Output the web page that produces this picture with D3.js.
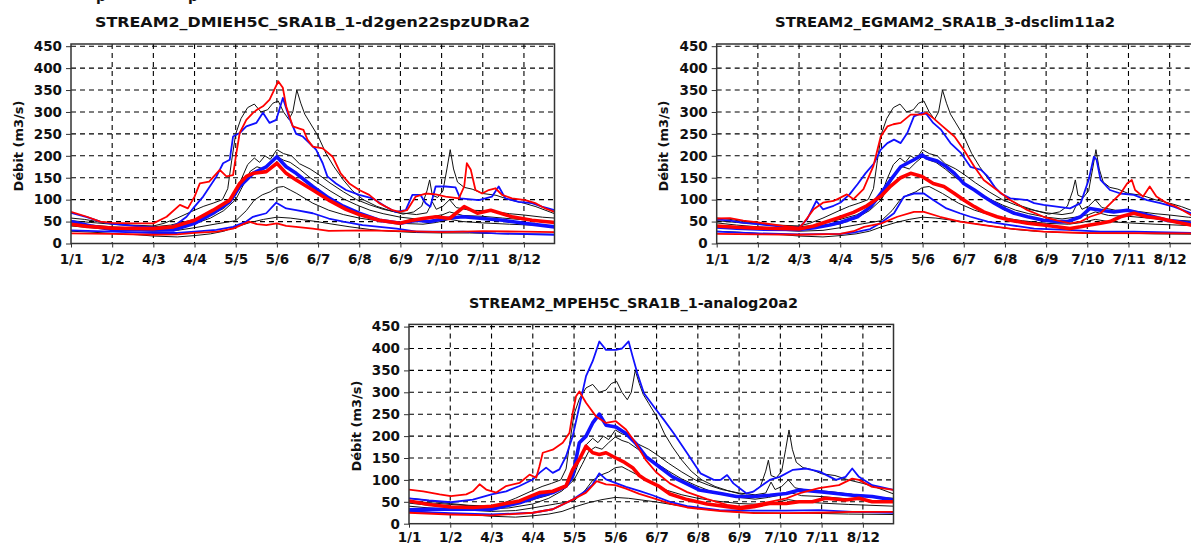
<!DOCTYPE html>
<html><head><meta charset="utf-8">
<script src="https://cdn.jsdelivr.net/npm/d3@7"></script>
<style>html,body{margin:0;padding:0;background:#fff;overflow:hidden}</style>
</head><body>
<svg id="chart" width="1191" height="543" xmlns="http://www.w3.org/2000/svg"></svg>
<script>
// ---------- axis definitions ----------
const xTickDays = [0,31,62,93,124,155,186,217,248,279,310,341];
const xTickLabels = ["1/1","1/2","4/3","4/4","5/5","5/6","6/7","6/8","6/9","7/10","7/11","8/12"];
const yTicks = [0,50,100,150,200,250,300,350,400,450];
const yLabel = "Débit (m3/s)";
const titles = ["STREAM2_DMIEH5C_SRA1B_1-d2gen22spzUDRa2","STREAM2_EGMAM2_SRA1B_3-dsclim11a2","STREAM2_MPEH5C_SRA1B_1-analog20a2"];
const headerFragments = ["p", "p"];

// ---------- observed (black) quantile series, [day, m3/s] ----------
const obsQ90 = [[0,58],[10,55],[20,50],[31,46],[45,42],[62,40],[70,46],[80,58],[93,76],[100,85],[107,92],[114,100],[118,125],[121,190],[124,250],[128,285],[133,310],[138,318],[143,300],[148,305],[152,320],[156,325],[160,300],[164,283],[167,300],[170,350],[173,320],[176,295],[180,275],[186,245],[192,205],[198,175],[205,145],[212,120],[220,100],[230,85],[240,75],[250,67],[258,72],[264,85],[268,120],[270,145],[272,110],[276,105],[280,120],[283,170],[285.5,214],[288,170],[291,140],[296,128],[302,124],[310,114],[320,110],[330,100],[341,92],[350,84],[364,68]];
const obsQ75 = [[0,52],[15,48],[31,44],[50,40],[62,38],[75,42],[93,55],[105,65],[115,80],[120,95],[124,110],[128,145],[133,180],[138,195],[142,185],[146,200],[150,192],[155,214],[160,205],[166,200],[172,182],[180,170],[186,158],[195,138],[205,118],[215,100],[225,88],[235,78],[248,70],[260,66],[268,70],[272,95],[275,78],[280,85],[285,100],[290,82],[300,76],[310,75],[320,72],[330,68],[341,65],[355,60],[364,58]];
const obsQ50 = [[0,47],[15,42],[31,38],[50,35],[62,34],[75,36],[93,45],[105,58],[115,75],[124,100],[130,135],[135,165],[140,175],[145,170],[150,185],[155,198],[160,190],[165,185],[172,170],[180,150],[186,138],[195,120],[205,102],[215,88],[225,76],[235,68],[248,60],[260,56],[270,60],[280,66],[285,72],[295,64],[310,62],[325,58],[341,54],[364,50]];
const obsQ25 = [[0,40],[15,36],[31,33],[50,30],[62,28],[80,30],[93,36],[110,45],[124,52],[132,75],[138,99],[144,111],[150,118],[155,128],[160,130],[165,122],[170,114],[182,92],[194,76],[205,66],[217,58],[230,52],[248,46],[265,44],[275,48],[285,55],[295,50],[310,47],[330,44],[364,40]];
const obsQ10 = [[0,28],[15,26],[31,23],[50,20],[62,17],[80,15],[93,18],[105,22],[115,28],[124,38],[135,48],[145,55],[155,60],[165,58],[175,54],[185,50],[195,45],[210,38],[225,32],[240,28],[260,25],[280,24],[300,24],[330,22],[364,21]];

// ---------- panel 1 : DMIEH5C ----------
const p1BlueHi = [[0,70],[12,60],[22,50],[31,45],[47,40],[62,37],[72,34],[80,45],[87,61],[93,84],[99.5,107],[104.5,130],[109.5,153],[114.5,183],[119.5,191],[122,244],[127,252],[132,267],[139.5,275],[144.5,298],[149.5,275],[154.5,282],[159.5,332],[164.5,285],[169.5,250],[174.5,244],[179.5,229],[184.5,214],[189.5,183],[193,153],[199.5,137],[207,122],[217,111],[227,103],[237,84],[244.5,72],[252,76],[257,111],[263,111],[267,92],[270.5,84],[274.5,130],[282,130],[289.5,128],[293,103],[307,99],[317,107],[322,130],[327,103],[337,95],[347,92],[354.5,84],[364,76]];
const p1BlueMed = [[0,50],[15,40],[31,32],[62,31],[77,31],[93,46],[107,69],[119.5,95],[127,130],[137,160],[147,175],[155,198],[162,175],[169.5,160],[182,130],[194,104],[205,85],[217,69],[232,53],[248,46],[260,53],[270,50],[282,57],[295,61],[310,57],[325,53],[341,46],[364,38]];
const p1BlueLo = [[0,30],[31,27],[62,24],[80,24],[93,27],[109.5,31],[122,38],[132,50],[137,61],[147,69],[154.5,93],[162,80],[169.5,76],[182,69],[194,57],[205,50],[219.5,42],[245,34],[260,27],[295,27],[320,23],[364,20]];
const p1RedHi = [[0,72],[12,61],[22,50],[31,47],[47,46],[62,46],[72,61],[82,88],[88,80],[93,107],[97,137],[104,141],[112,168],[117,153],[122,156],[124.5,206],[127,252],[132,282],[137,298],[140,305],[144.5,313],[149.5,328],[156,370],[159.5,355],[162,313],[167,267],[172,262],[175,259],[178,237],[182,221],[189.5,217],[197,198],[203,160],[209.5,137],[217,122],[224.5,111],[232,92],[242,76],[247.5,72],[253,76],[259.5,107],[267,114],[274.5,112],[282,107],[292,103],[296,130],[298,183],[301,168],[304.5,122],[309.5,114],[314.5,122],[319.5,126],[324.5,111],[332,103],[342,99],[349.5,92],[357,80],[364,72]];
const p1RedMed = [[0,44],[12,39],[31,35],[62,34],[77,38],[93,53],[107,76],[119.5,99],[127,137],[132,153],[137,160],[147,164],[155,183],[162,160],[169.5,145],[182,122],[194,99],[207,78],[217,66],[232,53],[247.5,46],[257,53],[265,57],[275,61],[285,57],[296,84],[306,69],[316,76],[332,61],[347,53],[364,48]];
const p1RedLo = [[0,23],[31,22],[62,20],[80,21],[93,24],[110,27],[122,34],[128,42],[134,50],[140,44],[147,42],[155,46],[162,40],[169.5,38],[182,34],[194,29],[220,30],[250,28],[280,26],[310,28],[340,27],[364,26]];

// ---------- panel 2 : EGMAM2 ----------
const p2BlueHi = [[0,55],[10,52],[20,47],[31,44],[50,38],[62,36],[68,55],[75,97],[80,78],[88,86],[93,93],[100,112],[106,135],[112,160],[118.5,183],[123.5,214],[128.5,229],[133.5,237],[138.5,229],[143.5,252],[148.5,290],[154.6,298],[158,295],[163,275],[169,259],[176,229],[184,206],[191,175],[199,168],[204,153],[209,130],[214,114],[221,103],[234,99],[239,92],[246,88],[256,84],[266,80],[274,92],[280,145],[284,198],[286,191],[289,145],[296,122],[304,114],[314,111],[324,99],[334,92],[344,84],[357,69],[364,66]];
const p2BlueMed = [[0,38],[15,35],[31,33],[62,32],[73.7,36],[85,42],[93,48],[106,61],[116,84],[123.5,114],[131,145],[138.5,175],[148.5,191],[154.6,202],[158,195],[166,188],[173,175],[179,160],[186,137],[194,122],[201,107],[209,92],[216,80],[224,69],[234,61],[246,53],[256,50],[264,50],[274,61],[281,80],[289,76],[299,72],[309,76],[319,69],[329,61],[339,53],[357,46],[364,45]];
const p2BlueLo = [[0,27],[31,23],[62,21],[93,22],[103,25],[115.5,33],[124,48],[133.5,69],[141,107],[148.5,114],[156,114],[163,99],[173,80],[183,69],[191,61],[204,50],[221,42],[239,34],[264,31],[289,27],[314,27],[357,24],[364,24]];
const p2RedHi = [[0,57],[10,58],[20,52],[31,48],[50,40],[62,36],[65,45],[73,78],[80,93],[88,97],[98,112],[103,101],[110.5,124],[118,177],[123.5,244],[125.5,253],[128.5,267],[133,272],[138.5,275],[146,294],[154.6,294],[158,298],[163,286],[171,265],[179,244],[186,214],[194,175],[201,145],[211,122],[221,99],[234,76],[246,61],[256,53],[266,46],[274,50],[281,61],[289,69],[299,99],[304,114],[309,137],[312.5,145],[315,122],[321,107],[326,130],[331,107],[339,92],[346,84],[357,65],[364,60]];
const p2RedMed = [[0,40],[15,37],[31,35],[62,33],[73,40],[93,60],[103,71],[113,86],[124,109],[131,131],[138.5,150],[146,160],[154.6,153],[163,137],[171,130],[179,114],[186,99],[194,84],[201,72],[211,61],[221,53],[234,46],[246,42],[256,38],[266,34],[274,38],[281,42],[289,46],[296,50],[304,61],[314,69],[324,61],[334,57],[344,50],[357,42],[364,41]];
const p2RedLo = [[0,22],[31,21],[62,20],[93,22],[103,28],[111,38],[124,46],[136,61],[148.5,72],[156,72],[168,61],[183,50],[201,42],[221,34],[246,27],[276,24],[357,23],[364,23]];

// ---------- panel 3 : MPEH5C ----------
const p3BlueHi = [[0,58],[15,53],[31.4,49],[48,55],[62,67],[73,74],[83,86],[93,101],[98,116],[103,128],[108,116],[113,124],[118,154],[123,200],[128,268],[133,337],[138,371],[143,416],[148,397],[155.4,397],[160,400],[165,416],[168,382],[171.6,343],[176.5,298],[184,267],[191.5,237],[199,206],[209,161],[219,115],[229,100],[234,100],[239,111],[243.7,92],[253.6,69],[258.6,73],[271,100],[278.5,107],[288.5,123],[298.4,126],[308.4,119],[320.8,100],[328,107],[333,126],[338,107],[348,88],[364,77]];
const p3BlueMed = [[0,32],[15,33],[31.4,33],[62,33],[83,48],[98,63],[108,71],[118,86],[123,109],[128,185],[133,200],[138,230],[143,250],[148,225],[155.5,221],[163,206],[170.5,183],[178,153],[188,130],[198,107],[208,92],[218,77],[234,69],[246,62],[258.6,62],[271,65],[283.5,69],[293.4,77],[308.4,73],[320.8,69],[333,65],[348,62],[364,54]];
const p3BlueLo = [[0,28],[31,24],[62,21],[93,25],[108,33],[123,55],[133,75],[138,90],[143,115],[148,101],[155,93],[163,84],[173,75],[183,65],[196,50],[209,40],[233,31],[258,30],[283,30],[308,31],[333,27],[364,25]];
const p3RedHi = [[0,78],[10.7,74],[23,67],[31.4,63],[43,67],[48,74],[53,90],[58,78],[65.6,71],[73,86],[83,93],[90.6,112],[95.6,105],[98,131],[100.5,162],[108,169],[115.5,185],[120.5,207],[123,253],[125.5,291],[128,302],[133,276],[140.5,245],[148,230],[155.4,234],[163,215],[170.5,183],[178,145],[185.5,118],[196,92],[209,72],[224,56],[239,43],[249,39],[259,43],[271,50],[283.5,58],[293,69],[308,81],[323,88],[333,103],[338,100],[348,84],[364,77]];
const p3RedMed = [[0,52],[15,44],[31.4,38],[48,37],[62,40],[83,52],[98,71],[108,74],[118,86],[123,124],[128,147],[133,177],[138,162],[143,158],[148,162],[155.4,150],[162,140],[168,128],[173,110],[178,100],[188,85],[196,68],[209,55],[224,45],[239,39],[249,35],[259,39],[271,46],[283.5,46],[293,50],[303,50],[313,58],[328,54],[338,58],[348,50],[364,50]];
const p3RedLo = [[0,25],[31,21],[62,19],[93,25],[108,33],[123,55],[133,71],[141,97],[148,90],[155,88],[163,80],[173,68],[184,58],[196,46],[209,37],[234,29],[259,24],[284,24],[309,25],[333,27],[364,27]];

// ---------- build panels ----------
const obsSeries = [obsQ90, obsQ75, obsQ50, obsQ25, obsQ10];
const panelData = [
  {title: titles[0], blue: [p1BlueHi, p1BlueLo], blueMed: p1BlueMed, red: [p1RedHi, p1RedLo], redMed: p1RedMed},
  {title: titles[1], blue: [p2BlueHi, p2BlueLo], blueMed: p2BlueMed, red: [p2RedHi, p2RedLo], redMed: p2RedMed},
  {title: titles[2], blue: [p3BlueHi, p3BlueLo], blueMed: p3BlueMed, red: [p3RedHi, p3RedLo], redMed: p3RedMed}
];
const layout = [
  {x0: 71, x1: 554.5, y0: 243.5, y450: 46.2, top: 44, titleX: 95, titleY: 27, titleW: 435, labX: 23, labY: 146, tickPad: 7},
  {x0: 716.7, x1: 1200.2, y0: 243.5, y450: 46.2, top: 44, titleX: 775, titleY: 27, titleW: 340, labX: 668, labY: 146, tickPad: 7},
  {x0: 409, x1: 893.5, y0: 523.7, y450: 326.6, top: 324.4, titleX: 469, titleY: 308, titleW: 329, labX: 361, labY: 426, tickPad: 5}
];

const svg = d3.select("#chart");
const FONT = "'DejaVu Sans', Verdana, sans-serif";
const BLUE = "#1010ff", RED = "#ff0000";

// partially visible header text at the very top edge
svg.append("g").selectAll("text").data(headerFragments).join("text")
  .attr("x", (d, k) => [96, 188][k]).attr("y", 0.5)
  .attr("font-family", FONT).attr("font-weight", "bold").attr("font-size", 14).attr("fill", "#111")
  .text(d => d);

panelData.forEach((pd, i) => {
  const L = layout[i];
  const x = d3.scaleLinear().domain([0, 364]).range([L.x0, L.x1]);
  const y = d3.scaleLinear().domain([0, 450]).range([L.y0, L.y450]);
  const g = svg.append("g");
  const clipId = "clip" + i;
  svg.append("clipPath").attr("id", clipId).append("rect")
    .attr("x", L.x0).attr("y", L.top).attr("width", L.x1 - L.x0).attr("height", L.y0 - L.top);

  // grid
  g.append("g").selectAll("line").data(xTickDays.slice(1)).join("line")
    .attr("x1", d => x(d)).attr("x2", d => x(d)).attr("y1", L.top).attr("y2", L.y0)
    .attr("stroke", "#000").attr("stroke-width", 1.1).attr("stroke-dasharray", "5,4");
  g.append("g").selectAll("line").data(yTicks.slice(1)).join("line")
    .attr("x1", L.x0).attr("x2", L.x1).attr("y1", d => y(d)).attr("y2", d => y(d))
    .attr("stroke", "#000").attr("stroke-width", 1.1).attr("stroke-dasharray", "5,4");

  const line = d3.line().x(d => x(d[0])).y(d => y(d[1]));
  const lg = g.append("g").attr("clip-path", `url(#${clipId})`).attr("fill", "none")
    .attr("stroke-linejoin", "round");
  obsSeries.forEach(s => lg.append("path").attr("d", line(s)).attr("stroke", "#111").attr("stroke-width", 1));
  pd.blue.forEach(s => lg.append("path").attr("d", line(s)).attr("stroke", BLUE).attr("stroke-width", 1.8));
  lg.append("path").attr("d", line(pd.blueMed)).attr("stroke", BLUE).attr("stroke-width", 3.6);
  pd.red.forEach(s => lg.append("path").attr("d", line(s)).attr("stroke", RED).attr("stroke-width", 1.8));
  lg.append("path").attr("d", line(pd.redMed)).attr("stroke", RED).attr("stroke-width", 3.6);

  // frame
  g.append("rect").attr("x", L.x0).attr("y", L.top).attr("width", L.x1 - L.x0).attr("height", L.y0 - L.top)
    .attr("fill", "none").attr("stroke", "#333").attr("stroke-width", 1.5);

  // axes
  const ax = g.append("g").attr("transform", `translate(${L.x0},0)`)
    .call(d3.axisLeft(y).tickValues(yTicks).tickSize(5).tickPadding(4));
  const bx = g.append("g").attr("transform", `translate(0,${L.y0})`)
    .call(d3.axisBottom(x).tickValues(xTickDays).tickFormat((d, k) => xTickLabels[k]).tickSize(4).tickPadding(L.tickPad));
  [ax, bx].forEach(a => {
    a.select(".domain").remove();
    a.selectAll("line").attr("stroke", "#333");
    a.selectAll("text").attr("font-family", FONT).attr("font-weight", "bold").attr("font-size", 13.5).attr("fill", "#111");
  });

  // y label
  g.append("text").attr("transform", `translate(${L.labX},${L.labY}) rotate(-90)`)
    .attr("text-anchor", "middle").attr("font-family", FONT).attr("font-weight", "bold")
    .attr("font-size", 13).attr("fill", "#111").text(yLabel);

  // title
  g.append("text").attr("x", L.titleX).attr("y", L.titleY)
    .attr("font-family", FONT).attr("font-weight", "bold").attr("font-size", 13.5).attr("fill", "#111")
    .attr("textLength", L.titleW).attr("lengthAdjust", "spacingAndGlyphs").text(pd.title);
});
</script>
</body></html>
